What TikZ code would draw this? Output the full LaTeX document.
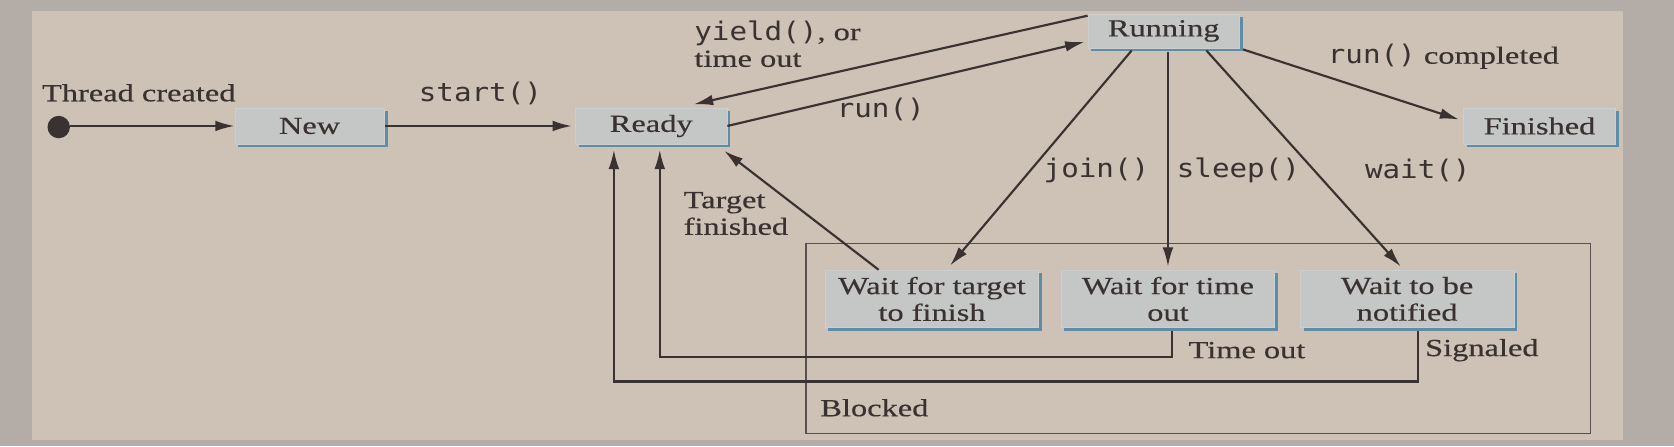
\documentclass[tikz,border=0pt]{standalone}
\usepackage{fontspec}
\setmainfont{Liberation Serif}[FakeStretch=1.32,FakeBold=0.4]
\newfontfamily\codefont{DejaVu Sans Mono}[FakeStretch=1.14]
\usetikzlibrary{arrows.meta,calc,shadows}
\definecolor{outerbg}{HTML}{B4ACA7}
\definecolor{panelbg}{HTML}{CEC1B6}
\definecolor{boxfill}{HTML}{C4C7C5}
\definecolor{shadowcol}{HTML}{5F8DA6}
\definecolor{ink}{HTML}{3A3230}
\begin{document}
\begin{tikzpicture}[x=0.5pt,y=-0.5pt,
  state/.style={fill=boxfill, draw=boxfill!85!white, line width=0.3pt, inner sep=0pt,
    align=center, font=\fontsize{11.5}{12.5}\selectfont, text=ink,
    general shadow={fill=shadowcol, shadow xshift=1.5pt, shadow yshift=-1.5pt}},
  lbl/.style={font=\fontsize{11.5}{12.5}\selectfont, text=ink, inner sep=0pt, align=left},
  code/.style={font=\codefont\fontsize{12}{12.5}\selectfont, text=ink, inner sep=0pt},
  conn/.style={draw=ink, line width=1pt, -{Latex[length=9pt,width=5pt]}},
]
\useasboundingbox (0,0) rectangle (1568,418);
\fill[outerbg] (0,0) rectangle (1568,418);
\fill[panelbg] (30,10) rectangle (1520,412);

% blocked region
\node (blocked) [draw=ink!85, line width=0.6pt, minimum width=367.5pt, minimum height=89pt, inner sep=0pt] at (1122.5,317) {};
\node (blockedl) [lbl, anchor=west] at (768,382) {Blocked};

% states
\node (init) [circle, fill=ink, minimum size=10.5pt, inner sep=0pt] at (55,119) {};
\node (new) [state, minimum width=70pt, minimum height=17pt] at (290,118) {New};
\node (ready) [state, minimum width=71pt, minimum height=17pt] at (610,118) {Ready};
\node (running) [state, minimum width=71pt, minimum height=16pt] at (1090,29) {Running};
\node (finished) [state, minimum width=71pt, minimum height=17pt] at (1442,118) {Finished};
\node (wtarget) [state, minimum width=100pt, minimum height=27pt] at (873,280) {Wait for target\\to finish};
\node (wtime) [state, minimum width=100pt, minimum height=27pt] at (1094,280) {Wait for time\\out};
\node (wnotify) [state, minimum width=100pt, minimum height=27pt] at (1318,280) {Wait to be\\notified};

% labels
\node (tcl) [lbl] at (130,87) {Thread created};
\node (startl) [code] at (450,88) {start()};
\node (yieldl) [lbl, anchor=west] at (650,41) {{\codefont\fontsize{12}{12.5}\selectfont yield()}, or\\time out};
\node (runl) [code] at (825,103) {run()};
\node (compl) [lbl] at (1352,53) {{\codefont\fontsize{12}{12.5}\selectfont run()} completed};
\node (joinl) [code] at (1027,160) {join()};
\node (sleepl) [code] at (1160,160) {sleep()};
\node (waitl) [code] at (1328,160) {wait()};
\node (targetl) [lbl, anchor=west] at (640,200) {Target\\finished};
\node (timeoutl) [lbl] at (1168,328) {Time out};
\node (signall) [lbl] at (1388,328) {Signaled};

% connectors
\draw[conn] (init.east |- new.west) -- (new.west);
\draw[conn] (new.east) -- ($(ready.west)+(-3,0)$);
\draw[conn] ($(running.north west)+(0,2)$) -- ($(ready.north)+(40,-3)$);
\draw[conn] (ready.east) -- ($(running.south west)+(-3,-6)$);
\draw[conn] ($(running.south east)+(3,1)$) -- ($(finished.west)+(-4,-6)$);
\draw[conn] ($(running.south)+(-30,2)$) -- ($(wtarget.north)+(17,-4)$);
\draw[conn] ($(running.south)+(4,3)$) -- ($(wtime.north)+(0,-3)$);
\draw[conn] ($(running.south)+(40,2)$) -- ($(wnotify.north)+(-6,-3)$);
\draw[conn] ($(wtarget.north)+(-50,0)$) -- ($(ready.south east)+(-3,6)$);
\draw[conn] ($(wtime.south)+(4,3)$) -- ++(0,24) -| ($(ready.south)+(8,5)$);
\draw[conn] ($(wnotify.south)+(10,3)$) -- ++(0,47) -| ($(ready.south)+(-35,5)$);
\end{tikzpicture}
\end{document}
